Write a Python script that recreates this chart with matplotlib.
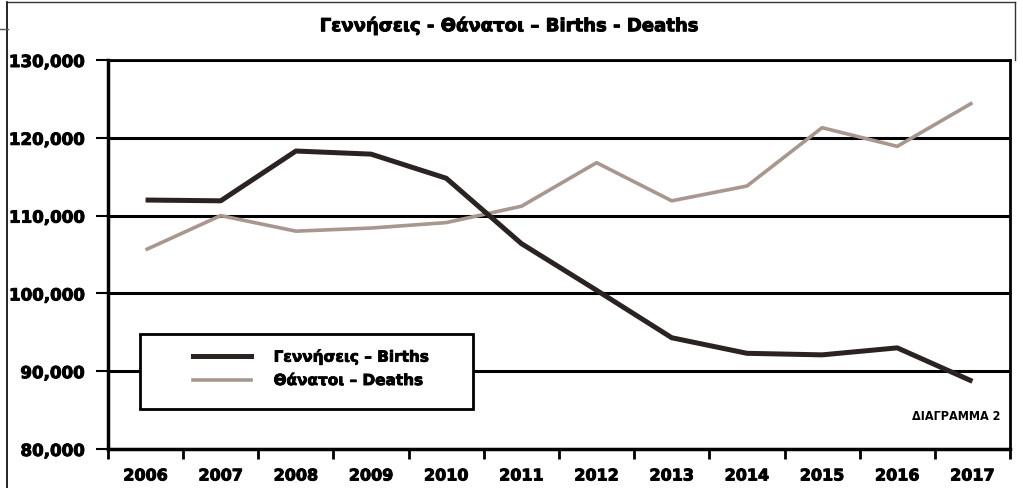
import matplotlib
matplotlib.use("Agg")
import matplotlib.pyplot as plt
from matplotlib.patches import Rectangle
from matplotlib.lines import Line2D
import matplotlib.patheffects as pe
import numpy as np

years = ["2006", "2007", "2008", "2009", "2010", "2011", "2012",
         "2013", "2014", "2015", "2016", "2017"]
births = [112000, 111900, 118300, 117900, 114800, 106400, 100400,
          94300, 92300, 92100, 93000, 88700]
deaths = [105600, 110000, 108000, 108400, 109100, 111200, 116800,
          111900, 113800, 121300, 118900, 124500]
yticks = [80000, 90000, 100000, 110000, 120000, 130000]
ytick_labels = ["80,000", "90,000", "100,000", "110,000", "120,000", "130,000"]

title = "Γεννήσεις - Θάνατοι – Births - Deaths"
label_births = "Γεννήσεις – Births"
label_deaths = "Θάνατοι – Deaths"
note = "ΔΙΑΓΡΑΜΜΑ 2"

plt.rcParams['font.family'] = ['DejaVu Sans']

heavy = [pe.withStroke(linewidth=0.7, foreground="black")]

W, H = 1023, 489
fig = plt.figure(figsize=(W / 100, H / 100), dpi=100)
fig.patch.set_facecolor("white")

ax = fig.add_axes([108 / W, 1 - 450 / H, (1010 - 108) / W, (450 - 61) / H])

x = np.arange(len(years))
ax.plot(x, births, color="#2b2321", lw=3.6, solid_joinstyle="round",
        solid_capstyle="butt", zorder=4)
ax.plot(x, deaths, color="#a8978f", lw=2.6, solid_joinstyle="round",
        solid_capstyle="butt", zorder=3)

ax.set_xlim(-0.5, len(years) - 0.5)
ax.set_ylim(80000, 130000)

ax.set_yticks(yticks)
ax.set_yticklabels(ytick_labels, fontsize=12, fontweight="bold")
ax.tick_params(axis="y", direction="out", length=9, width=1.5, pad=8, color="black")

ax.set_xticks(x)
ax.set_xticklabels(years, fontsize=11.5, fontweight="bold")
ax.tick_params(axis="x", which="major", length=0, pad=14)
ax.set_xticks(np.arange(-0.5, len(years), 1.0), minor=True)
ax.tick_params(axis="x", which="minor", direction="out", length=7, width=2, color="black")

for lbl in ax.get_xticklabels() + ax.get_yticklabels():
    lbl.set_path_effects(heavy)

ax.grid(axis="y", color="black", lw=2.2, zorder=1)
ax.set_axisbelow(True)
for s in ["left", "bottom"]:
    ax.spines[s].set_linewidth(2.5)
    ax.spines[s].set_color("black")
ax.spines["right"].set_linewidth(2)
ax.spines["top"].set_linewidth(2)

# legend box
rect = Rectangle((140 / W, 1 - 410 / H), (473 - 140) / W, (410 - 335) / H,
                 transform=fig.transFigure, facecolor="white", edgecolor="black",
                 lw=2, zorder=6)
ax.add_patch(rect)
rect.set_clip_on(False)
handles = [Line2D([0], [0], color="#2b2321", lw=3.6),
           Line2D([0], [0], color="#a8978f", lw=2.6)]
leg = ax.legend(handles, [label_births, label_deaths], loc="upper left",
                bbox_to_anchor=(185 / W, 1 - 342 / H), bbox_transform=fig.transFigure,
                frameon=False, prop={"weight": "bold", "size": 11},
                handlelength=3.8, handletextpad=1.5, labelspacing=0.55, borderpad=0)
leg.set_zorder(7)
for t in leg.get_texts():
    t.set_path_effects([pe.withStroke(linewidth=0.6, foreground="black")])

fig.text(0.497, 1 - 27 / H, title, ha="center", va="center",
         fontsize=13, fontweight="bold", path_effects=heavy)
fig.text(1000 / W, 1 - 417 / H, note, ha="right", va="center",
         fontsize=9, fontweight="bold", family=["DejaVu Sans"], stretch="condensed")

# outer frame lines
fig.add_artist(Line2D([7 / W, 7 / W], [0, 1 - 3 / H], transform=fig.transFigure, color="black", lw=1.2))
fig.add_artist(Line2D([7 / W, 1015 / W], [1 - 3 / H, 1 - 3 / H], transform=fig.transFigure, color="#333333", lw=1))
fig.add_artist(Line2D([1015 / W, 1015 / W], [1 - 3 / H, 1 - 61 / H], transform=fig.transFigure, color="#333333", lw=1))
fig.add_artist(Line2D([0, 8 / W], [1 - 30 / H, 1 - 30 / H], transform=fig.transFigure, color="#555555", lw=1))

fig.savefig("out.png", dpi=100, facecolor="white")
